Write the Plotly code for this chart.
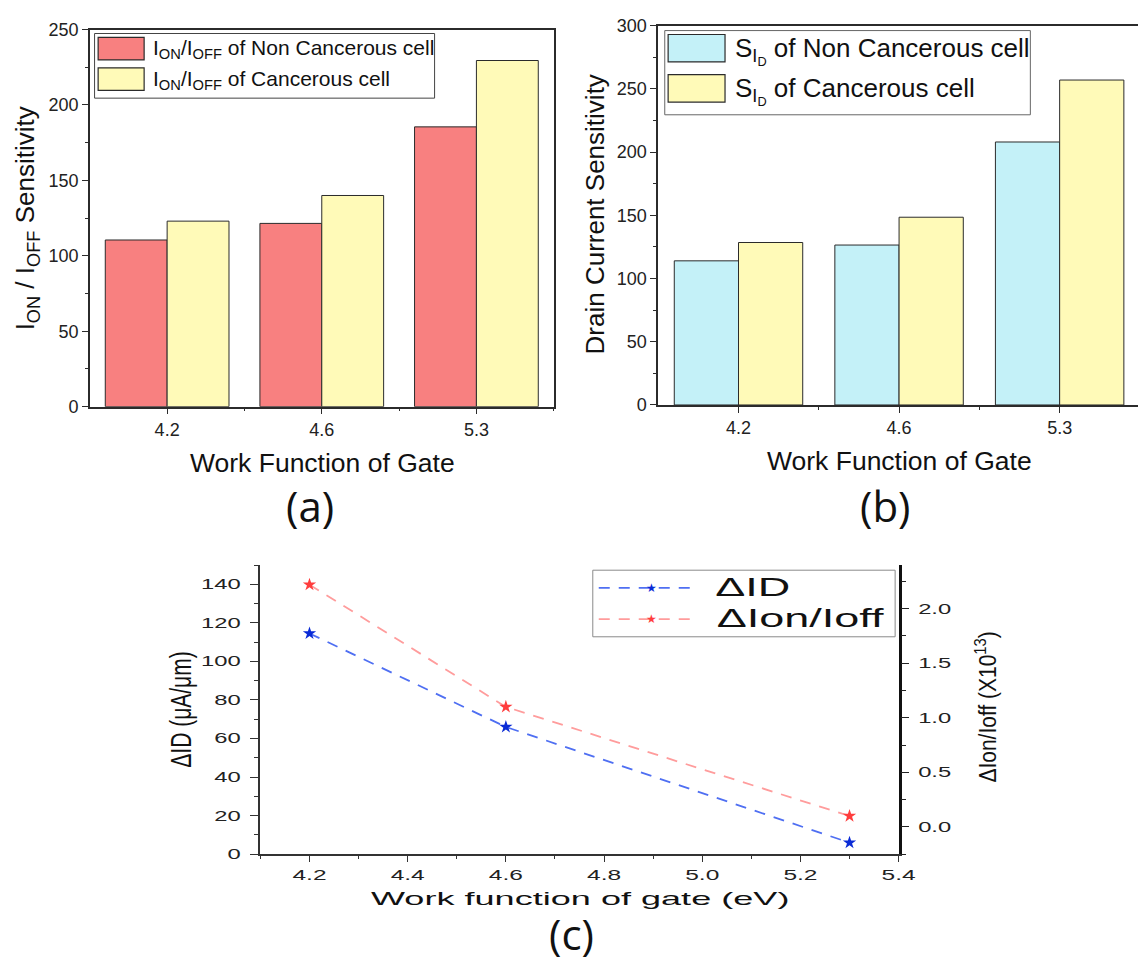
import plotly.graph_objects as go

# ---------------- data ----------------
work_function = ["4.2", "4.6", "5.3"]

ratio_non_cancerous = [110.5, 121.5, 185.5]
ratio_cancerous = [123.0, 140.0, 229.5]

sid_non_cancerous = [114.0, 126.5, 208.0]
sid_cancerous = [128.5, 148.5, 257.0]

wf_ev = [4.2, 4.6, 5.3]
delta_id = [114.5, 66.0, 6.0]          # µA/µm
delta_ion_ioff = [2.22, 1.10, 0.10]    # x 1e13

# ---------------- styling ----------------
W, H = 1148, 969
RED = "#F88080"
YELLOW = "#FFFAB8"
CYAN = "#C4F1F8"
EDGE = "#2b2b2b"
SANS = "Liberation Sans, Arial, sans-serif"
LABEL_FONT = "Open Sans, sans-serif"
BLUE_LINE = "#4F6FF2"
BLUE_MARK = "#0A2BD6"
RED_LINE = "#FF9C9C"
RED_MARK = "#FF3D3D"


def px(x):
    return x / W


def py(y):
    return 1 - y / H


cat_pos = list(range(len(work_function)))

fig = go.Figure()

# ---- (a) on/off ratio sensitivity ----
fig.add_trace(go.Bar(x=cat_pos, y=ratio_non_cancerous, marker=dict(color=RED, line=dict(color=EDGE, width=1)),
                     xaxis="x", yaxis="y", name="non-cancerous"))
fig.add_trace(go.Bar(x=cat_pos, y=ratio_cancerous, marker=dict(color=YELLOW, line=dict(color=EDGE, width=1)),
                     xaxis="x", yaxis="y", name="cancerous"))

# ---- (b) drain current sensitivity ----
fig.add_trace(go.Bar(x=cat_pos, y=sid_non_cancerous, marker=dict(color=CYAN, line=dict(color=EDGE, width=1)),
                     xaxis="x2", yaxis="y2", name="non-cancerous"))
fig.add_trace(go.Bar(x=cat_pos, y=sid_cancerous, marker=dict(color=YELLOW, line=dict(color=EDGE, width=1)),
                     xaxis="x2", yaxis="y2", name="cancerous"))

# ---- (c) differences vs work function ----
fig.add_trace(go.Scatter(x=wf_ev, y=delta_id, mode="lines+markers", xaxis="x3", yaxis="y3",
                         line=dict(color=BLUE_LINE, width=1.8, dash="11px,9px"),
                         marker=dict(symbol="star", size=10, color=BLUE_MARK), name="ΔID"))
fig.add_trace(go.Scatter(x=wf_ev, y=delta_ion_ioff, mode="lines+markers", xaxis="x3", yaxis="y4",
                         line=dict(color=RED_LINE, width=1.8, dash="11px,9px"),
                         marker=dict(symbol="star", size=10, color=RED_MARK), name="ΔIon/Ioff"))

bar_tick_font = dict(family=SANS, size=18, color="#222")
c_tick_font = dict(family=SANS, size=14, color="#222")

common_cat_x = dict(tickmode="array", tickvals=cat_pos, ticktext=work_function, ticks="outside", ticklen=6,
                    tickcolor=EDGE, tickfont=bar_tick_font, showline=True, linecolor=EDGE, linewidth=1.5,
                    showgrid=False, zeroline=False,
                    minor=dict(tickmode="array", tickvals=[0.5, 1.5, 2.5], ticks="outside", ticklen=3,
                               tickcolor=EDGE))

fig.update_layout(
    width=W, height=H, margin=dict(l=0, r=0, t=0, b=0),
    paper_bgcolor="white", plot_bgcolor="white", showlegend=False,
    barmode="group", bargap=0.2, bargroupgap=0,
    xaxis=dict(domain=[px(90.6), px(558.6)], range=[-0.5, 2.5], anchor="y", mirror=True, **common_cat_x),
    yaxis=dict(domain=[py(405), py(20)], range=[0, 250], dtick=50, anchor="x", ticks="outside", ticklen=6,
               tickcolor=EDGE, tickfont=bar_tick_font, showline=True, linecolor=EDGE, linewidth=1.5,
               mirror=True, showgrid=False, zeroline=False,
               minor=dict(dtick=25, ticks="outside", ticklen=3, tickcolor=EDGE)),
    xaxis2=dict(domain=[px(664), 1.0], range=[-0.5, 2.488], anchor="y2", mirror=True, **common_cat_x),
    yaxis2=dict(domain=[py(403.3), py(16)], range=[0, 300], dtick=50, anchor="x2", ticks="outside", ticklen=6,
                tickcolor=EDGE, tickfont=bar_tick_font, showline=True, linecolor=EDGE, linewidth=1.5,
                showgrid=False, zeroline=False,
                minor=dict(dtick=25, ticks="outside", ticklen=3, tickcolor=EDGE)),
    xaxis3=dict(domain=[px(262.7), px(906.5)], range=[4.1, 5.4], dtick=0.2, tick0=4.2, tickformat=".1f",
                anchor="y3", ticks="outside", ticklen=6, tickcolor="#333", tickfont=c_tick_font,
                ticklabelstandoff=1,
                showline=True, linecolor="#333", linewidth=1.8, showgrid=False, zeroline=False,
                minor=dict(dtick=0.1, tick0=4.1, ticks="outside", ticklen=3, tickcolor="#333")),
    xaxis4=dict(domain=[px(262.7), px(906.5)], range=[4.1, 5.4], dtick=0.2, tick0=4.2, overlaying="x3",
                side="top", anchor="y3", ticks="inside", ticklen=5, tickcolor="#555", showticklabels=False,
                showline=True, linecolor="#666", linewidth=1.5, showgrid=False, zeroline=False,
                minor=dict(dtick=0.1, tick0=4.1, ticks="inside", ticklen=3, tickcolor="#555")),
    yaxis3=dict(domain=[py(862), py(566.7)], range=[0, 150], dtick=20, anchor="x3", ticks="outside",
                ticklen=9, tickcolor="#333", tickfont=c_tick_font, ticklabelstandoff=6,
                showline=True, linecolor="#333", linewidth=1.8, showgrid=False, zeroline=False,
                minor=dict(dtick=10, ticks="outside", ticklen=5, tickcolor="#333")),
    yaxis4=dict(range=[-0.25, 2.4], dtick=0.5, tick0=0, tickformat=".1f", overlaying="y3", side="right",
                anchor="x3", ticks="outside", ticklen=8, tickcolor="#222", tickfont=c_tick_font,
                ticklabelstandoff=6, showline=True, linecolor="#111", linewidth=2.5, showgrid=False,
                zeroline=False, minor=dict(dtick=0.25, tick0=0, ticks="outside", ticklen=5, tickcolor="#222")),
)

shapes = []
annotations = []
stretch = {}  # annotation index -> css transform


def add_text(text, x, y, size, family=SANS, angle=0, xanchor="center", color="#111", css=None):
    annotations.append(dict(text=text, x=px(x), y=py(y), xref="paper", yref="paper", showarrow=False,
                            xanchor=xanchor, yanchor="middle", textangle=angle,
                            font=dict(family=family, size=size, color=color)))
    if css:
        stretch[len(annotations) - 1] = css


def add_rect(x0, y0, x1, y1, fill, line_color, width=1):
    shapes.append(dict(type="rect", xref="paper", yref="paper", x0=px(x0), x1=px(x1), y0=py(y1), y1=py(y0),
                       fillcolor=fill, line=dict(color=line_color, width=width), layer="above"))


# ---- legend (a) ----
add_rect(95.4, 24, 438.4, 90, "white", "#444", 1)
add_rect(99, 28, 145.4, 51, RED, EDGE, 1.2)
add_rect(99, 59, 145.4, 82, YELLOW, EDGE, 1.2)
add_text("I<sub>ON</sub>/I<sub>OFF</sub> of Non Cancerous cell", 152.4, 40, 21, xanchor="left")
add_text("I<sub>ON</sub>/I<sub>OFF</sub> of Cancerous cell", 152.4, 71, 21, xanchor="left")

# ---- legend (b) ----
add_rect(670.6, 21, 1039.4, 107, "white", "#666", 1)
add_rect(674, 25, 731.4, 53, CYAN, EDGE, 1.2)
add_rect(674, 66, 731.4, 94, YELLOW, EDGE, 1.2)
add_text("S<sub>I<sub>D</sub></sub> of Non Cancerous cell", 739.4, 42, 26, xanchor="left")
add_text("S<sub>I<sub>D</sub></sub> of Cancerous cell", 739.4, 83, 26, xanchor="left")

# ---- axis titles and panel labels (a), (b) ----
add_text("I<sub>ON</sub> / I<sub>OFF</sub> Sensitivity", 27, 213, 26, angle=-90)
add_text("Drain Current Sensitivity", 600, 209, 26, angle=-90)
add_text("Work Function of Gate", 325, 463, 26.5)
add_text("Work Function of Gate", 907, 461, 26.5)
add_text("(a)", 313, 506, 42, family=LABEL_FONT)
add_text("(b)", 893, 506, 42, family=LABEL_FONT)

# ---- legend (c) ----
add_rect(598, 572, 903, 640, "white", "#8a8a8a", 1)
for yy, lc, mc in [(590, BLUE_LINE, BLUE_MARK), (622, RED_LINE, RED_MARK)]:
    shapes.append(dict(type="line", xref="paper", yref="paper", x0=px(604), x1=px(700), y0=py(yy), y1=py(yy),
                       line=dict(color=lc, width=1.8, dash="11px,9px"), layer="above"))
    add_text("★", 657, yy, 12, family="DejaVu Sans", color=mc)
add_text("ΔID", 759.5, 589, 25, css="scaleX(1.8)")
add_text("ΔIon/Ioff", 808, 621, 25, css="scaleX(1.8)")

# ---- titles (c) ----
add_text("ΔID (μA/μm)", 182, 714, 21, angle=-90, css="scaleY(1.4)")
add_text("ΔIon/Ioff (X10<sup>13</sup>)", 995, 712, 21, angle=-90, css="scaleY(1.15)")
add_text("Work function of gate (eV)", 585, 907, 19, css="scaleX(1.9)")
add_text("(c)", 577, 943, 42, family=LABEL_FONT)

fig.update_layout(shapes=shapes, annotations=annotations)

css_rules = [
    "g.x3tick{transform-box:fill-box;transform-origin:50% 50%;transform:scaleX(1.75);}",
    "g.y3tick{transform-box:fill-box;transform-origin:100% 50%;transform:scaleX(1.7);}",
    "g.y4tick{transform-box:fill-box;transform-origin:0% 50%;transform:scaleX(1.7);}",
]
for idx, tr in stretch.items():
    css_rules.append(
        f'.annotation[data-index="{idx}"] text{{transform-box:fill-box;transform-origin:50% 50%;transform:{tr};}}'
    )

post_js = ("var st=document.createElement('style');st.textContent=" + repr("".join(css_rules)) +
           ";document.head.appendChild(st);")

fig.write_html("out.html", post_script=post_js)
